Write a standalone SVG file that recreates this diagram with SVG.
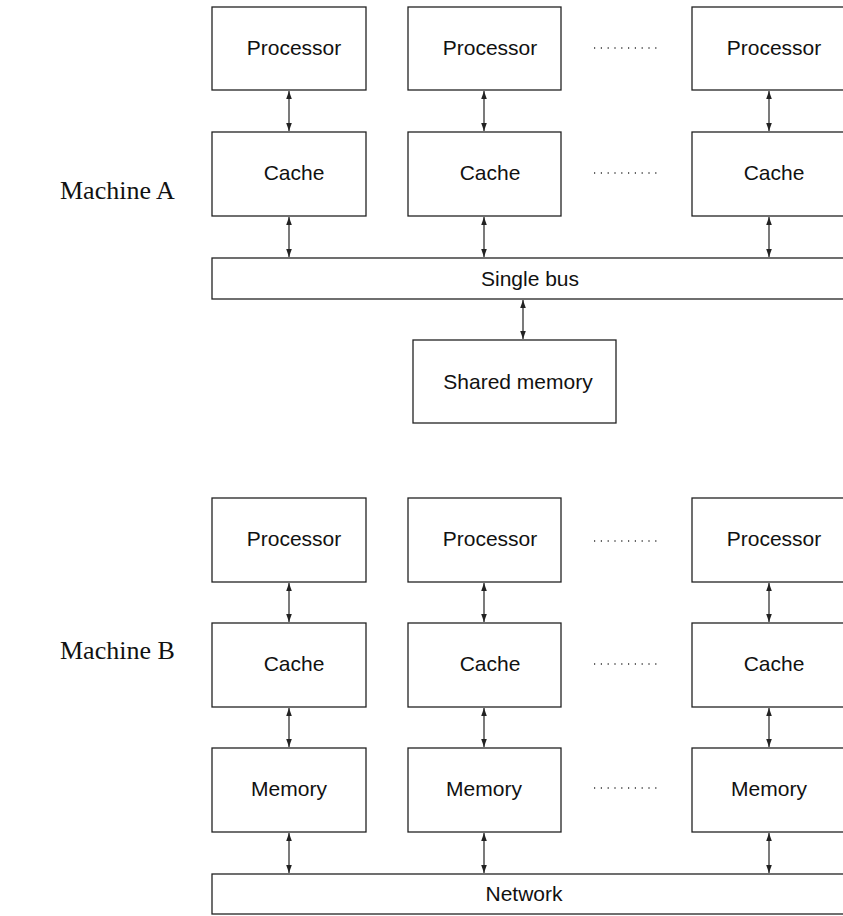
<svg xmlns="http://www.w3.org/2000/svg" width="843" height="916" viewBox="0 0 843 916">
<style>
.box{fill:#fff;stroke:#222;stroke-width:1.3}
.lbl{font-family:"Liberation Sans",Arial,sans-serif;font-size:21px;fill:#111;text-anchor:middle}
.mach{font-family:"Liberation Serif","Times New Roman",serif;font-size:26px;fill:#111}
.arr{stroke:#222;stroke-width:1.2;fill:none;marker-start:url(#ah);marker-end:url(#ah)}
.dots{stroke:#333;stroke-width:1.4;stroke-dasharray:1.2 5.6;fill:none}
</style>
<defs>
<marker id="ah" viewBox="0 0 10 10" refX="10" refY="5" markerWidth="8" markerHeight="8" markerUnits="userSpaceOnUse" orient="auto-start-reverse">
<path d="M0,1.5 L10,5 L0,8.5 Z" fill="#222"/>
</marker>
</defs>
<rect width="843" height="916" fill="#fff"/>
<text class="mach" x="60" y="199">Machine A</text>
<text class="mach" x="60" y="659">Machine B</text>
<g id="connectors">
<line class="arr" x1="289" y1="91" x2="289" y2="131"/>
<line class="arr" x1="484" y1="91" x2="484" y2="131"/>
<line class="arr" x1="769" y1="91" x2="769" y2="131"/>
<line class="arr" x1="289" y1="217" x2="289" y2="257"/>
<line class="arr" x1="484" y1="217" x2="484" y2="257"/>
<line class="arr" x1="769" y1="217" x2="769" y2="257"/>
<line class="arr" x1="523" y1="300" x2="523" y2="339"/>
<line class="arr" x1="289" y1="583" x2="289" y2="622"/>
<line class="arr" x1="484" y1="583" x2="484" y2="622"/>
<line class="arr" x1="769" y1="583" x2="769" y2="622"/>
<line class="arr" x1="289" y1="708" x2="289" y2="747"/>
<line class="arr" x1="484" y1="708" x2="484" y2="747"/>
<line class="arr" x1="769" y1="708" x2="769" y2="747"/>
<line class="arr" x1="289" y1="833" x2="289" y2="873"/>
<line class="arr" x1="484" y1="833" x2="484" y2="873"/>
<line class="arr" x1="769" y1="833" x2="769" y2="873"/>
</g>
<g id="dots">
<line class="dots" x1="594" y1="48" x2="658" y2="48"/>
<line class="dots" x1="594" y1="173" x2="658" y2="173"/>
<line class="dots" x1="594" y1="541" x2="658" y2="541"/>
<line class="dots" x1="594" y1="664" x2="658" y2="664"/>
<line class="dots" x1="594" y1="788" x2="658" y2="788"/>
</g>
<g id="procA1"><rect class="box" x="212" y="7" width="154" height="83"/><text class="lbl" x="294" y="55">Processor</text></g>
<g id="procA2"><rect class="box" x="408" y="7" width="153" height="83"/><text class="lbl" x="490" y="55">Processor</text></g>
<g id="procA3"><rect class="box" x="692" y="7" width="160" height="83"/><text class="lbl" x="774" y="55">Processor</text></g>
<g id="cacheA1"><rect class="box" x="212" y="132" width="154" height="84"/><text class="lbl" x="294" y="180">Cache</text></g>
<g id="cacheA2"><rect class="box" x="408" y="132" width="153" height="84"/><text class="lbl" x="490" y="180">Cache</text></g>
<g id="cacheA3"><rect class="box" x="692" y="132" width="160" height="84"/><text class="lbl" x="774" y="180">Cache</text></g>
<g id="bus"><rect class="box" x="212" y="258" width="640" height="41"/><text class="lbl" x="530" y="286">Single bus</text></g>
<g id="shared"><rect class="box" x="413" y="340" width="203" height="83"/><text class="lbl" x="518" y="389">Shared memory</text></g>
<g id="procB1"><rect class="box" x="212" y="498" width="154" height="84"/><text class="lbl" x="294" y="546">Processor</text></g>
<g id="procB2"><rect class="box" x="408" y="498" width="153" height="84"/><text class="lbl" x="490" y="546">Processor</text></g>
<g id="procB3"><rect class="box" x="692" y="498" width="160" height="84"/><text class="lbl" x="774" y="546">Processor</text></g>
<g id="cacheB1"><rect class="box" x="212" y="623" width="154" height="84"/><text class="lbl" x="294" y="671">Cache</text></g>
<g id="cacheB2"><rect class="box" x="408" y="623" width="153" height="84"/><text class="lbl" x="490" y="671">Cache</text></g>
<g id="cacheB3"><rect class="box" x="692" y="623" width="160" height="84"/><text class="lbl" x="774" y="671">Cache</text></g>
<g id="memB1"><rect class="box" x="212" y="748" width="154" height="84"/><text class="lbl" x="289" y="796">Memory</text></g>
<g id="memB2"><rect class="box" x="408" y="748" width="153" height="84"/><text class="lbl" x="484" y="796">Memory</text></g>
<g id="memB3"><rect class="box" x="692" y="748" width="160" height="84"/><text class="lbl" x="769" y="796">Memory</text></g>
<g id="network"><rect class="box" x="212" y="874" width="640" height="40"/><text class="lbl" x="524" y="901">Network</text></g>
</svg>
